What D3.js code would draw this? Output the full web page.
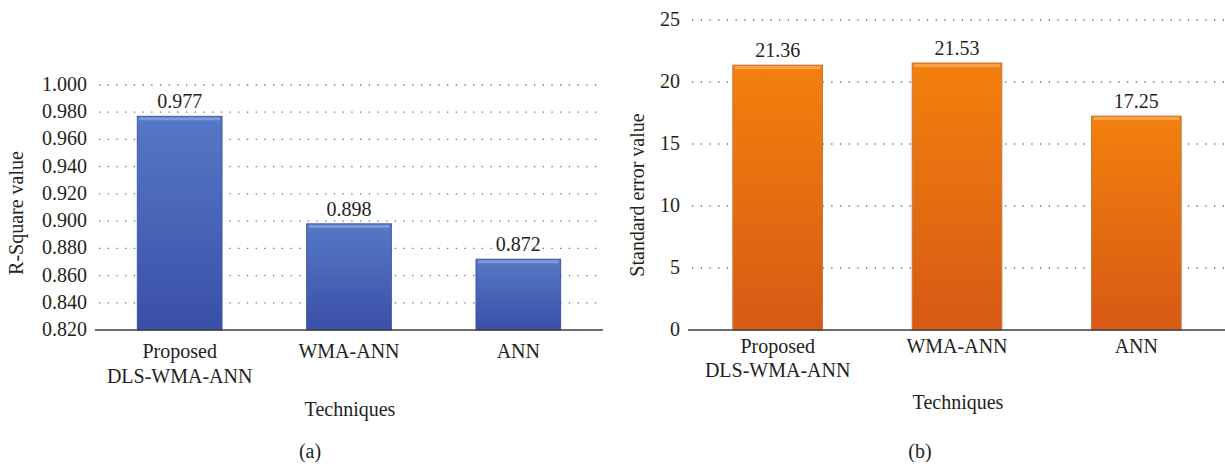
<!DOCTYPE html>
<html>
<head>
<meta charset="utf-8">
<script src="https://cdn.jsdelivr.net/npm/d3@7"></script>
</head>
<body style="margin:0">
<script>
// data
const techniques = ["Proposed\nDLS-WMA-ANN", "WMA-ANN", "ANN"];
const rSquare = [0.977, 0.898, 0.872];
const rSquareLabels = ["0.977", "0.898", "0.872"];
const rSquareTicks = [0.82, 0.84, 0.86, 0.88, 0.90, 0.92, 0.94, 0.96, 0.98, 1.00];
const stdError = [21.36, 21.53, 17.25];
const stdErrorLabels = ["21.36", "21.53", "17.25"];
const stdErrorTicks = [0, 5, 10, 15, 20, 25];

const svg = d3.select("body")
  .append("svg")
    .attr("width", 1225)
    .attr("height", 464);

const defs = svg.append("defs");

function gradient(id, top, bottom) {
  const g = defs.append("linearGradient")
    .attr("id", id)
    .attr("x1", 0).attr("y1", 0).attr("x2", 0).attr("y2", 1);
  g.append("stop").attr("offset", "0%").attr("stop-color", top);
  g.append("stop").attr("offset", "100%").attr("stop-color", bottom);
}
gradient("blueGrad", "#5678c6", "#3a4fa7");
gradient("orangeGrad", "#f3800d", "#d65a14");

// serif text
function label(g) {
  return g.append("text")
    .style("font-family", "'Liberation Serif'")
    .style("font-size", "20px")
    .attr("fill", "#231f20");
}

// draws one panel
function panel(opt) {
  const g = svg.append("g");

  const x = d3.scaleBand()
    .domain(techniques)
    .range([opt.left, opt.right])
    .paddingInner(0.5)
    .paddingOuter(0.25);

  const y = d3.scaleLinear()
    .domain(opt.domain)
    .range([opt.bottom, opt.top]);

  // dotted grid
  g.append("g")
    .selectAll("line")
    .data(opt.ticks.slice(1))
    .enter()
    .append("line")
      .attr("x1", opt.left + 4)
      .attr("x2", opt.right)
      .attr("y1", d => y(d))
      .attr("y2", d => y(d))
      .attr("stroke", "#6d6d6d")
      .attr("stroke-width", 1.3)
      .attr("stroke-dasharray", "1.3,7.4");

  // bars
  const bars = g.selectAll(".bar")
    .data(opt.values)
    .enter()
    .append("g");

  bars.append("rect")
    .attr("x", (d, i) => x(techniques[i]))
    .attr("y", d => y(d))
    .attr("width", x.bandwidth())
    .attr("height", d => opt.bottom - y(d))
    .attr("fill", `url(#${opt.grad})`)
    .attr("stroke", opt.edge)
    .attr("stroke-width", 1);

  // bevel highlight on top
  bars.append("rect")
    .attr("x", (d, i) => x(techniques[i]) + 2)
    .attr("y", d => y(d) + 1)
    .attr("width", x.bandwidth() - 4)
    .attr("height", 3)
    .attr("fill", opt.shine)
    .attr("opacity", 0.7);

  // baseline
  g.append("line")
    .attr("x1", opt.left)
    .attr("x2", opt.right)
    .attr("y1", opt.bottom)
    .attr("y2", opt.bottom)
    .attr("stroke", "#3f3f3f")
    .attr("stroke-width", 1.6);

  // y tick labels, placed by the scale
  opt.ticks.forEach(t => {
    label(g)
      .attr("x", opt.left - 8)
      .attr("y", y(t) + 6)
      .attr("text-anchor", "end")
      .text(opt.fmt(t));
  });

  // value labels
  opt.values.forEach((d, i) => {
    label(g)
      .attr("x", x(techniques[i]) + x.bandwidth() / 2)
      .attr("y", y(d) - 8)
      .attr("text-anchor", "middle")
      .text(opt.labels[i]);
  });

  // category labels
  techniques.forEach(t => {
    t.split("\n").forEach((s, k) => {
      label(g)
        .attr("x", x(t) + x.bandwidth() / 2)
        .attr("y", opt.bottom + opt.catY + k * opt.catGap)
        .attr("text-anchor", "middle")
        .text(s);
    });
  });

  // axis titles
  label(g)
    .attr("transform", `translate(${opt.titleX},${opt.titleY}) rotate(-90)`)
    .attr("text-anchor", "middle")
    .text(opt.yTitle);

  label(g)
    .attr("x", opt.xTitleX)
    .attr("y", opt.xTitleY)
    .attr("text-anchor", "middle")
    .text("Techniques");

  label(g)
    .attr("x", opt.capX)
    .attr("y", 458)
    .attr("text-anchor", "middle")
    .text(opt.caption);
}

panel({
  left: 95, right: 603, top: 85, bottom: 330,
  domain: [0.82, 1.0], ticks: rSquareTicks, fmt: d3.format(".3f"),
  values: rSquare, labels: rSquareLabels,
  grad: "blueGrad", edge: "#3d55a3", shine: "#8fa8e0",
  catY: 28, catGap: 25,
  yTitle: "R-Square value", titleX: 23, titleY: 213,
  xTitleX: 350, xTitleY: 416,
  capX: 310, caption: "(a)"
});

panel({
  left: 688, right: 1226, top: 20, bottom: 330,
  domain: [0, 25], ticks: stdErrorTicks, fmt: d3.format("d"),
  values: stdError, labels: stdErrorLabels,
  grad: "orangeGrad", edge: "#c9753a", shine: "#fbb36a",
  catY: 23, catGap: 24,
  yTitle: "Standard error value", titleX: 644, titleY: 195,
  xTitleX: 958, xTitleY: 409,
  capX: 920, caption: "(b)"
});
</script>
</body>
</html>
